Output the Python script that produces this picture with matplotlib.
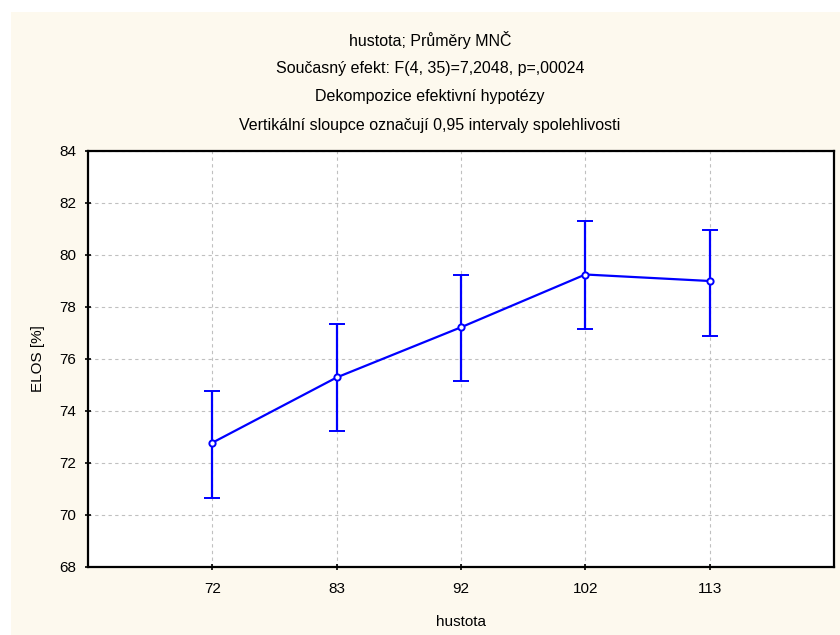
import numpy as np
import matplotlib.pyplot as plt
from matplotlib.patches import Rectangle

plt.rcParams['font.family'] = ['Liberation Sans', 'DejaVu Sans']

# data
hustota = ['72', '83', '92', '102', '113']
prumer = [72.78, 75.29, 77.22, 79.25, 79.00]
ci_dolni = [70.66, 73.24, 75.14, 77.17, 76.88]
ci_horni = [74.76, 77.35, 79.24, 81.30, 80.98]

tituly = ['hustota; Průměry MNČ',
          'Současný efekt: F(4, 35)=7,2048, p=,00024',
          'Dekompozice efektivní hypotézy',
          'Vertikální sloupce označují 0,95 intervaly spolehlivosti']

fig = plt.figure(figsize=(8.4, 6.35), dpi=100, facecolor='white')
fig.patches.append(Rectangle((11/840, 0), 1, (635-12)/635, transform=fig.transFigure,
                             facecolor='#FDF9EE', edgecolor='none', zorder=-10))

ax = fig.add_axes([88/840, 1-567/635, (834-88)/840, (567-151)/635])
ax.set_facecolor('white')

x = np.arange(len(hustota))
prumer = np.array(prumer)
err = [prumer - np.array(ci_dolni), np.array(ci_horni) - prumer]
ax.errorbar(x, prumer, yerr=err, color='#0000FF', lw=1.6, elinewidth=1.6,
            capsize=6, capthick=1.6, marker='o', ms=4.5, mfc='white', mec='#0000FF', mew=1.4)

ax.set_xlim(-1, 5)
ax.set_ylim(68, 84)
ax.set_xticks(x)
ax.set_xticklabels(hustota)
ax.set_yticks(np.arange(68, 85, 2))
ax.grid(True, ls=(0, (3, 3)), color='#C0C0C0', lw=0.8)
ax.set_axisbelow(True)
ax.tick_params(direction='inout', length=5, width=1.2, labelsize=11)
ax.tick_params(axis='x', pad=8)
ax.tick_params(axis='y', pad=6)
for s in ax.spines.values():
    s.set_linewidth(1.6)

ax.set_xlabel('hustota', fontsize=11, labelpad=14)
ax.set_ylabel('ELOS [%]', fontsize=11, labelpad=10)

for i, t in enumerate(tituly):
    fig.text(0.5 + 10/840, 1 - (40 + i*28.5)/635, t, ha='center', va='center', fontsize=11.5)

fig.savefig('out.png', dpi=100, facecolor='white')
